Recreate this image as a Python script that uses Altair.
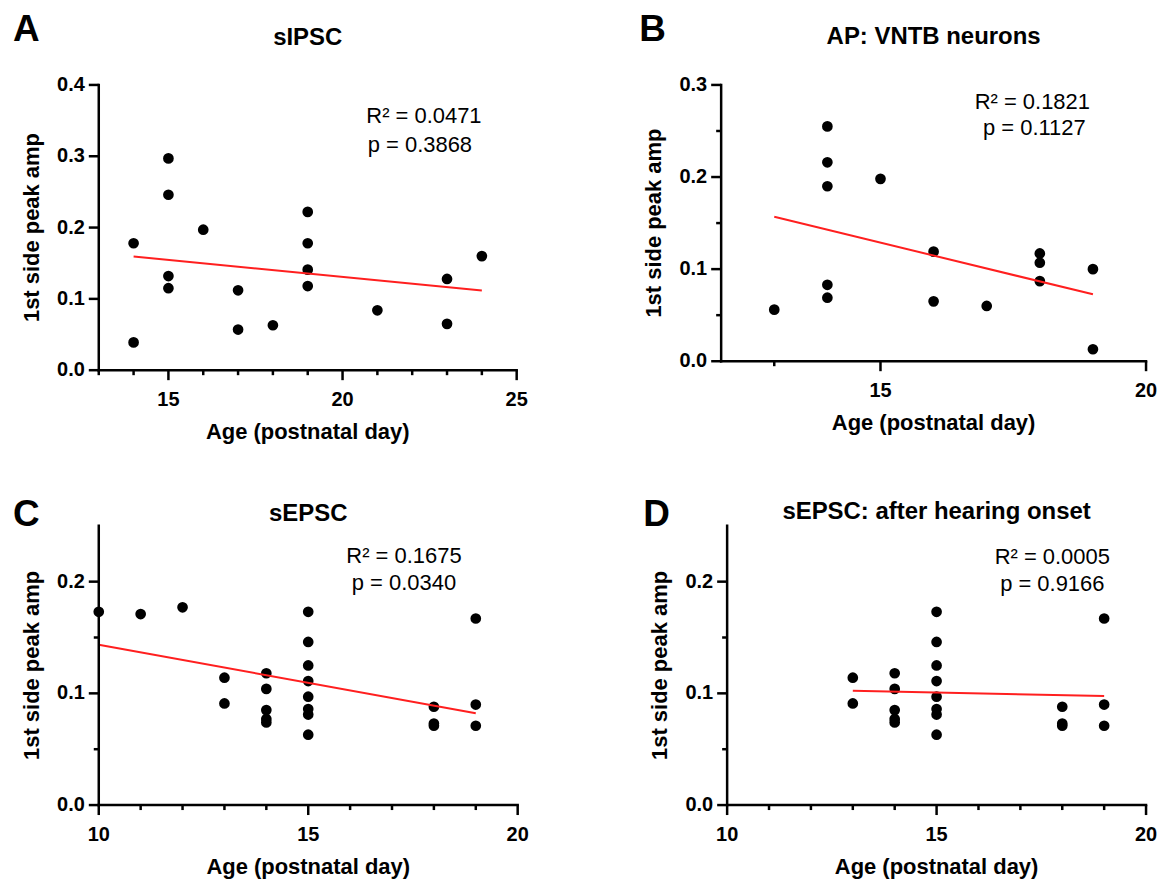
import altair as alt
import pandas as pd

FONT = "Liberation Sans, Arial, Helvetica, sans-serif"

# ---------------- data ----------------
letters = ["A", "B", "C", "D"]
titles = ["sIPSC", "AP: VNTB neurons", "sEPSC", "sEPSC: after hearing onset"]
r2_labels = ["R\u00b2 = 0.0471", "R\u00b2 = 0.1821", "R\u00b2 = 0.1675", "R\u00b2 = 0.0005"]
p_labels = ["p = 0.3868", "p = 0.1127", "p = 0.0340", "p = 0.9166"]
x_title = "Age (postnatal day)"
y_title = "1st side peak amp"

a_age = [14, 14, 15, 15, 15, 15, 16, 17, 17, 18, 19, 19, 19, 19, 21, 23, 23, 24]
a_amp = [0.178, 0.039, 0.297, 0.246, 0.132, 0.115, 0.197, 0.112, 0.057, 0.063,
         0.222, 0.178, 0.141, 0.118, 0.084, 0.128, 0.065, 0.160]

b_age = [13, 14, 14, 14, 14, 14, 15, 16, 16, 17, 18, 18, 18, 19, 19]
b_amp = [0.056, 0.255, 0.216, 0.190, 0.083, 0.069, 0.198, 0.119, 0.065, 0.060,
         0.117, 0.107, 0.087, 0.100, 0.013]

c_age = [10, 11, 12, 13, 13, 14, 14, 14, 14, 14, 15, 15, 15, 15, 15, 15, 15, 15,
         18, 18, 18, 19, 19, 19]
c_amp = [0.173, 0.171, 0.177, 0.114, 0.091, 0.118, 0.104, 0.085, 0.077, 0.074,
         0.173, 0.146, 0.125, 0.111, 0.097, 0.086, 0.081, 0.063,
         0.088, 0.073, 0.071, 0.167, 0.090, 0.071]

d_age = [13, 13, 14, 14, 14, 14, 14, 15, 15, 15, 15, 15, 15, 15, 15,
         18, 18, 18, 19, 19, 19]
d_amp = [0.114, 0.091, 0.118, 0.104, 0.085, 0.077, 0.074,
         0.173, 0.146, 0.125, 0.111, 0.097, 0.086, 0.081, 0.063,
         0.088, 0.073, 0.071, 0.167, 0.090, 0.071]

# major (labelled, long) and minor (short) ticks
a_xmajor = [15, 20, 25]
a_xminor = [13, 14, 16, 17, 18, 19, 21, 22, 23, 24]
b_xmajor = [15, 20]
b_xminor = [13]
cd_xmajor = [10, 15, 20]
cd_xminor = [11, 12, 13, 14, 16, 17, 18, 19]
a_ymajor = [0.0, 0.1, 0.2, 0.3, 0.4]
a_yminor = []
b_ymajor = [0.0, 0.1, 0.2, 0.3]
b_yminor = [0.05, 0.15, 0.25]
cd_ymajor = [0.0, 0.1, 0.2]
cd_yminor = [0.05, 0.15]

AX_W = 2.5
MAJ = 10
MIN = 5


def txt(s, px, py, size, weight="normal", align="center", baseline="middle", angle=0):
    return alt.Chart(pd.DataFrame({"t": [s]})).mark_text(
        font=FONT, fontSize=size, fontWeight=weight, color="black",
        align=align, baseline=baseline, angle=angle
    ).encode(x=alt.value(px), y=alt.value(py), text="t:N")


def panel(age, amp, xdom, ydom, xmaj, xmin, ymaj, ymin, w, h, idx,
          letter_xy, title_y, r2_xy, p_xy):
    df = pd.DataFrame({"age": age, "amp": amp})
    xs = alt.Scale(domain=xdom, nice=False, zero=False)
    ys = alt.Scale(domain=ydom, nice=False)

    def X(field):
        return alt.X(field, scale=xs, axis=None)

    def Y(field):
        return alt.Y(field, scale=ys, axis=None)

    base = alt.Chart(df)
    pts = base.mark_circle(size=115, color="black", opacity=1).encode(
        x=X("age:Q"), y=Y("amp:Q"))
    fit = base.transform_regression("age", "amp").mark_line(
        color="#ff1f1f", strokeWidth=2).encode(x=X("age:Q"), y=Y("amp:Q"))

    def xticks(vals, ln):
        return alt.Chart(pd.DataFrame({"age": vals})).mark_rule(
            color="black", strokeWidth=AX_W).encode(
            x=X("age:Q"), y=alt.value(h), y2=alt.value(h + ln))

    def yticks(vals, ln):
        return alt.Chart(pd.DataFrame({"amp": vals})).mark_rule(
            color="black", strokeWidth=AX_W).encode(
            y=Y("amp:Q"), x=alt.value(0), x2=alt.value(-ln))

    xlab = alt.Chart(pd.DataFrame({"age": xmaj})).mark_text(
        font=FONT, fontSize=20, fontWeight="bold", color="black",
        align="center", baseline="middle").encode(
        x=X("age:Q"), y=alt.value(h + 30), text=alt.Text("age:Q", format="d"))
    ylab = alt.Chart(pd.DataFrame({"amp": ymaj})).mark_text(
        font=FONT, fontSize=20, fontWeight="bold", color="black",
        align="right", baseline="middle").encode(
        y=Y("amp:Q"), x=alt.value(-14), text=alt.Text("amp:Q", format=".1f"))

    one = pd.DataFrame({"k": [0]})
    x_line = alt.Chart(one).mark_rule(color="black", strokeWidth=AX_W, strokeCap="square").encode(
        x=alt.value(0), x2=alt.value(w), y=alt.value(h))
    y_line = alt.Chart(one).mark_rule(color="black", strokeWidth=AX_W, strokeCap="square").encode(
        x=alt.value(0), y=alt.value(0), y2=alt.value(h))

    layers = [pts, fit, x_line, y_line, xticks(xmaj, MAJ), yticks(ymaj, MAJ), xlab, ylab]
    if xmin:
        layers.append(xticks(xmin, MIN))
    if ymin:
        layers.append(yticks(ymin, MIN))

    layers += [
        txt(x_title, w / 2, h + 62, 22, "bold"),
        txt(y_title, -67, h / 2, 22, "bold", angle=270),
        txt(letters[idx], letter_xy[0], letter_xy[1], 37, "bold", "left", "alphabetic"),
        txt(titles[idx], w / 2, title_y, 24, "bold"),
        txt(r2_labels[idx], r2_xy[0], r2_xy[1], 22),
        txt(p_labels[idx], p_xy[0], p_xy[1], 22),
    ]
    return alt.layer(*layers).properties(width=w, height=h)


pA = panel(a_age, a_amp, [13, 25], [0, 0.4], a_xmajor, a_xminor, a_ymajor, a_yminor,
           419, 286, 0, (-86, -44), -47, (326, 31), (322, 60))
pB = panel(b_age, b_amp, [12, 20], [0, 0.3], b_xmajor, b_xminor, b_ymajor, b_yminor,
           426, 277, 1, (-82, -44), -48, (312, 17), (314, 43))
pC = panel(c_age, c_amp, [10, 20], [0, 0.25], cd_xmajor, cd_xminor, cd_ymajor, cd_yminor,
           420, 280, 2, (-86, 0), -12, (306, 30), (306, 57))
pD = panel(d_age, d_amp, [10, 20], [0, 0.25], cd_xmajor, cd_xminor, cd_ymajor, cd_yminor,
           420, 280, 3, (-84, 0), -14, (326, 31), (326, 58))

chart = alt.vconcat(
    alt.hconcat(pA, pB, spacing=111),
    alt.hconcat(pC, pD, spacing=114),
    spacing=53,
).properties(
    padding={"left": 5, "top": 2, "right": 5, "bottom": 5}
).configure_view(
    stroke=None
)

chart.save("out.html", embed_options={"renderer": "svg", "actions": False})
